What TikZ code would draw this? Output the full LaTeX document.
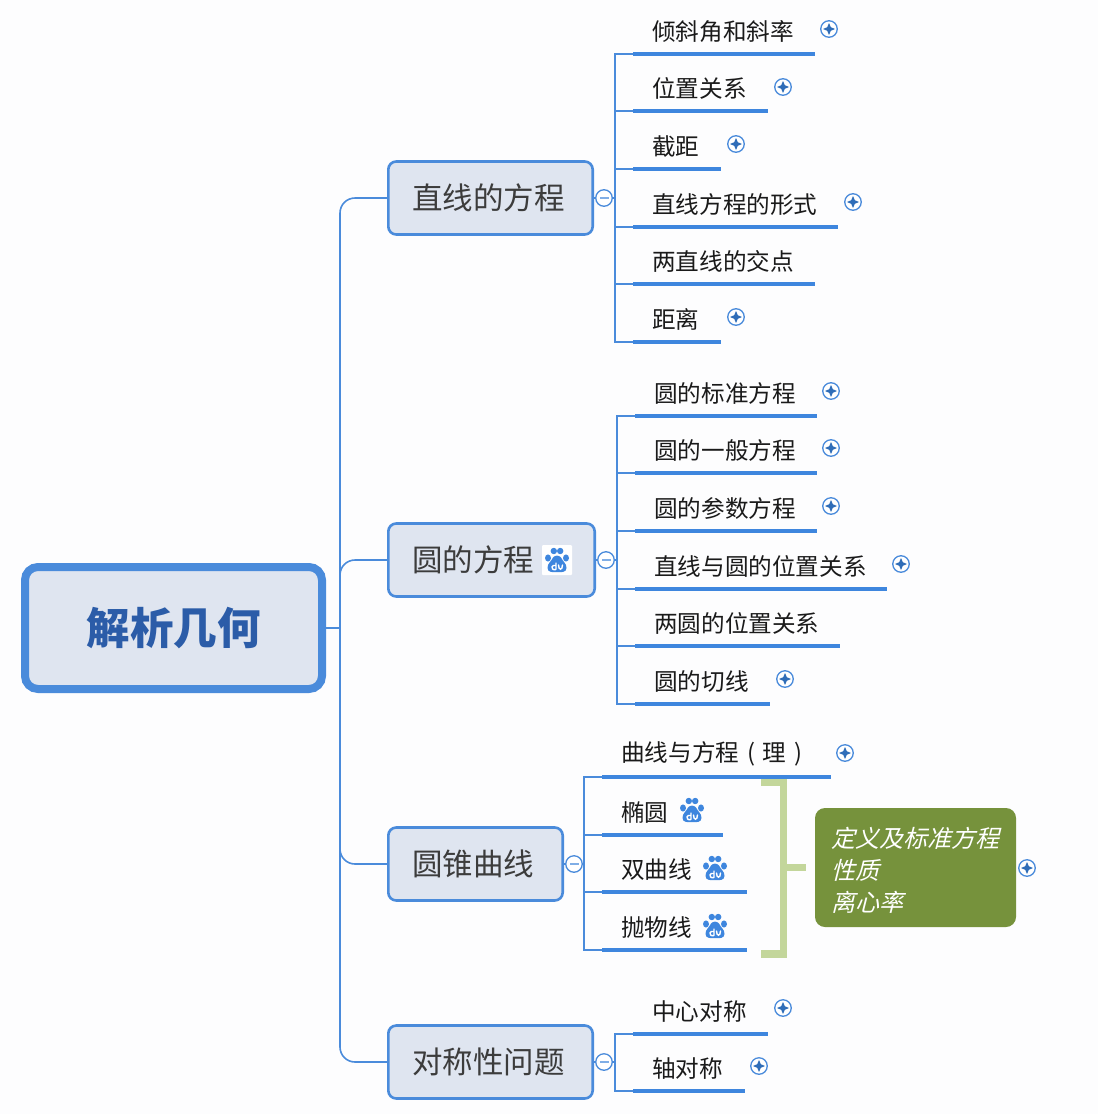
\documentclass[tikz,border=0pt]{standalone}
\usepackage{fontspec}
\setmainfont{Noto Sans CJK SC}
\newfontfamily\slantcjk[FakeSlant=0.25]{Noto Sans CJK SC}
\definecolor{linkblue}{HTML}{4A8BDB}
\definecolor{barblue}{HTML}{3E86DE}
\definecolor{boxfill}{HTML}{DFE5F0}
\definecolor{roottext}{HTML}{2B5CA8}
\definecolor{togglebg}{HTML}{FFFFFF}
\definecolor{togglemark}{HTML}{2F6DB8}
\definecolor{greenbox}{HTML}{76923C}
\definecolor{greenline}{HTML}{C3D69B}
\definecolor{pagebg}{HTML}{FDFDFE}
\definecolor{inktext}{HTML}{1A1A1A}
\tikzset{
  rootbox/.style={draw=linkblue,line width=8pt,fill=boxfill,rounded corners=13pt,minimum width=297pt,minimum height=122pt,inner sep=0pt,text=roottext,font=\bfseries\fontsize{43.5}{50}\selectfont},
  mainbox/.style={draw=linkblue,line width=2.6pt,fill=boxfill,rounded corners=8pt,minimum height=73pt,minimum width=#1 pt-2.6pt,text width=#1 pt-50.6pt,inner xsep=24pt,inner ysep=0pt,align=left,text=inktext!85,font=\fontsize{30.5}{36}\selectfont,anchor=west},
  leaf/.style={minimum height=45pt,inner ysep=0pt,inner xsep=10pt,anchor=south west,align=left,text=inktext,font=\fontsize{23.6}{28}\selectfont,minimum width=#1 pt,text width=#1 pt-20pt},
  bar/.style={draw=barblue,line width=4.4pt},
  conn/.style={draw=linkblue,line width=1.6pt},
  trunkline/.style={conn,rounded corners=15pt},
  toggle/.style={circle,draw=linkblue,line width=1.3pt,fill=togglebg,minimum size=16.5pt,inner sep=0pt},
  minusmark/.style={toggle,path picture={\fill[linkblue!70] ([shift={(-4.5pt,-1pt)}]path picture bounding box.center) rectangle ([shift={(4.5pt,1pt)}]path picture bounding box.center);}},
  plusmark/.style={toggle,path picture={\fill[togglemark] ([xshift=-6pt]path picture bounding box.center) -- ([shift={(-1.8pt,1.8pt)}]path picture bounding box.center) -- ([yshift=6pt]path picture bounding box.center) -- ([shift={(1.8pt,1.8pt)}]path picture bounding box.center) -- ([xshift=6pt]path picture bounding box.center) -- ([shift={(1.8pt,-1.8pt)}]path picture bounding box.center) -- ([yshift=-6pt]path picture bounding box.center) -- ([shift={(-1.8pt,-1.8pt)}]path picture bounding box.center) -- cycle;}},
  pawicon/.pic={
    \fill[barblue] (-9,-2) ellipse [x radius=3,y radius=3.6];
    \fill[barblue] (9,-2) ellipse [x radius=3,y radius=3.6];
    \fill[barblue] (-3.2,-9) ellipse [x radius=3.2,y radius=3.2];
    \fill[barblue] (3.2,-9) ellipse [x radius=3.2,y radius=3.2];
    \fill[barblue] (-9.5,8) .. controls (-9.5,3) and (-6,2) .. (-4,-2.5) .. controls (-2,-5) and (2,-5) .. (4,-2.5) .. controls (6,2) and (9.5,3) .. (9.5,8) .. controls (9.5,12.5) and (4,12.5) .. (0,12) .. controls (-4,12.5) and (-9.5,12.5) .. (-9.5,8) -- cycle;
    \draw[white,line width=1.4pt,line cap=round] (-1,3) -- (-1,9) .. controls (-1,10) and (-5,10.5) .. (-5,7) .. controls (-5,5.5) and (-3,5) .. (-1,5.5);
    \draw[white,line width=1.4pt,line cap=round] (1.5,5) .. controls (1.5,10.5) and (5.5,10.5) .. (5.5,5);
  },
  greennote/.style={fill=greenbox,rounded corners=10pt,minimum width=201pt,minimum height=119pt,inner sep=0pt,text width=168.5pt,align=left,text=white,font=\slantcjk\fontsize{24}{32}\selectfont},
  bracketline/.style={draw=greenline,line width=7.5pt},
}
\newcommand{\leafbar}[1]{\draw[bar] (#1.south west) -- (#1.south east);}
\begin{document}
\begin{tikzpicture}[x=1pt,y=-1pt]
\useasboundingbox (0,0) rectangle (1098,1114);
\fill[pagebg] (0,0) rectangle (1098,1114);

% trunk
\coordinate (tr) at (340,628);
\node[rootbox] (root) at (173.5,628) {解析几何};
\node[mainbox=207] (m1) at (387,198) {直线的方程};
\node[mainbox=209] (m2) at (387,560) {圆的方程};
\node[mainbox=177] (m3) at (387,864) {圆锥曲线};
\node[mainbox=207] (m4) at (387,1062) {对称性问题};
\draw[conn] (root.east) -- (tr);
\draw[trunkline] (m1.west) -| (tr);
\draw[trunkline] (m2.west) -| (tr);
\draw[trunkline] (m3.west) -| (tr);
\draw[trunkline] (m4.west) -| (tr);

% icon in second box
\fill[white,rounded corners=1pt] (542,545) rectangle (572,575);
\pic at (557,560) {pawicon};

% group 1
\coordinate (s1) at (615,198);
\foreach \n/\w/\y/\t in {a1/182/54/倾斜角和斜率,a2/135/111/位置关系,a3/88/169/截距,a4/205/227/直线方程的形式,a5/182/284/两直线的交点,a6/88/342/距离}{
  \node[leaf=\w] (\n) at (633,\y) {\hspace*{9pt}\t};
  \leafbar{\n}
  \draw[conn] (\n.south west) -| (s1);
}
\node[minusmark] (t1) at (604,198) {};
\draw[conn] (m1.east) -- (t1) -- (s1);
\node[plusmark] (p11) at (829,29) {};
\node[plusmark] (p12) at (783,87) {};
\node[plusmark] (p13) at (736,144) {};
\node[plusmark] (p14) at (853,202) {};
\node[plusmark] (p16) at (736,317) {};

% group 2
\coordinate (s2) at (617,560);
\foreach \n/\w/\y/\t in {b1/182/416/圆的标准方程,b2/182/473/圆的一般方程,b3/182/531/圆的参数方程,b4/252/589/直线与圆的位置关系,b5/205/646/两圆的位置关系,b6/135/704/圆的切线}{
  \node[leaf=\w] (\n) at (635,\y) {\hspace*{9pt}\t};
  \leafbar{\n}
  \draw[conn] (\n.south west) -| (s2);
}
\node[minusmark] (t2) at (606,560) {};
\draw[conn] (m2.east) -- (t2) -- (s2);
\node[plusmark] (p21) at (831,391) {};
\node[plusmark] (p22) at (831,448) {};
\node[plusmark] (p23) at (831,506) {};
\node[plusmark] (p24) at (901,564) {};
\node[plusmark] (p26) at (785,679) {};

% group 3
\coordinate (s3) at (584,864);
\foreach \n/\w/\y/\t in {c1/229/777/曲线与方程 ( 理 ),c2/121/835/椭圆,c3/145/892/双曲线,c4/145/950/抛物线}{
  \node[leaf=\w] (\n) at (602,\y) {\hspace*{9pt}\t};
  \leafbar{\n}
  \draw[conn] (\n.south west) -| (s3);
}
\node[minusmark] (t3) at (574,864) {};
\draw[conn] (m3.east) -- (t3) -- (s3);
\node[plusmark] (p31) at (845,753) {};
\pic at (692,810) {pawicon};
\pic at (715,868) {pawicon};
\pic at (715,926) {pawicon};

% green bracket and note
\node[greennote] (g) at (915.5,867.5) {\rule{0pt}{25pt}定义及标准方程\\性质\\离心率};
\coordinate (bt) at (761,782.5);
\coordinate (bb) at (761,954);
\coordinate (bm) at (783.5,867.5);
\draw[bracketline] (bt) -- (bm |- bt) -- (bm |- bb) -- (bb);
\coordinate (be) at (806,867.5);
\draw[bracketline] (bm) -- (be);
\node[plusmark] (p3g) at (1027,868) {};

% group 4
\coordinate (s4) at (615,1062);
\foreach \n/\w/\y/\t in {d1/135/1034/中心对称,d2/112/1091/轴对称}{
  \node[leaf=\w] (\n) at (633,\y) {\hspace*{9pt}\t};
  \leafbar{\n}
  \draw[conn] (\n.south west) -| (s4);
}
\node[minusmark] (t4) at (604,1062) {};
\draw[conn] (m4.east) -- (t4) -- (s4);
\node[plusmark] (p41) at (783,1008) {};
\node[plusmark] (p42) at (759,1066) {};
\end{tikzpicture}
\end{document}
